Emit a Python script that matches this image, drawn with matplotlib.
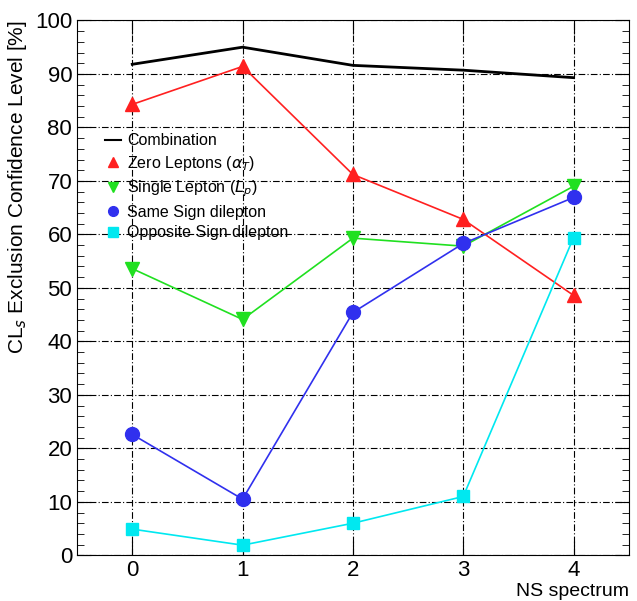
import matplotlib.pyplot as plt
from matplotlib.lines import Line2D
from matplotlib.ticker import MultipleLocator

plt.rcParams['font.family'] = ['Liberation Sans', 'DejaVu Sans']

ns = [0, 1, 2, 3, 4]
combination = [91.8, 95.0, 91.6, 90.7, 89.3]
zero_lep = [84.3, 91.4, 71.2, 62.8, 48.6]
single_lep = [53.6, 44.1, 59.3, 57.8, 69.0]
same_sign = [22.6, 10.5, 45.4, 58.3, 66.9]
opp_sign = [4.9, 1.9, 6.0, 11.0, 59.4]

labels = ['Combination', r'Zero Leptons ($\alpha_T$)', r'Single Lepton ($L_p$)',
          'Same Sign dilepton', 'Opposite Sign dilepton']
colors = ['black', '#ff2020', '#20e020', '#3030ee', '#00e8f0']
markers = [None, '^', 'v', 'o', 's']

fig = plt.figure(figsize=(6.37, 6.01), dpi=100)
ax = fig.add_axes([0.121, 0.076, 0.866, 0.89])

ax.plot(ns, combination, color=colors[0], lw=2)
ax.plot(ns, zero_lep, color=colors[1], lw=1.2, marker='^', ms=10)
ax.plot(ns, single_lep, color=colors[2], lw=1.2, marker='v', ms=10)
ax.plot(ns, same_sign, color=colors[3], lw=1.2, marker='o', ms=10)
ax.plot(ns, opp_sign, color=colors[4], lw=1.2, marker='s', ms=9)

ax.set_xlim(-0.5, 4.5)
ax.set_ylim(0, 100)
ax.set_xticks(ns)
ax.yaxis.set_major_locator(MultipleLocator(10))
ax.yaxis.set_minor_locator(MultipleLocator(2))
ax.tick_params(which='both', direction='in', top=True, right=True, labelsize=16)
ax.tick_params(which='major', length=10)
ax.tick_params(which='minor', length=5)
ax.grid(True, which='major', color='black', ls=(0, (6, 2, 1, 2)), lw=0.8)

ax.set_xlabel('NS spectrum', fontsize=14, loc='right', labelpad=1)
ax.set_ylabel(r'CL$_s$ Exclusion Confidence Level [%]', fontsize=15, loc='top')

handles = [Line2D([], [], color=colors[0], lw=1.5)]
for c, m in zip(colors[1:], markers[1:]):
    handles.append(Line2D([], [], color=c, ls='none', marker=m, ms=7))
leg = ax.legend(handles, labels, loc='upper left', bbox_to_anchor=(0.03, 0.81), frameon=False,
                fontsize=11.5, handlelength=1.0, handletextpad=0.4, labelspacing=0.35, borderpad=0.2)

fig.savefig('out.png', dpi=100)
